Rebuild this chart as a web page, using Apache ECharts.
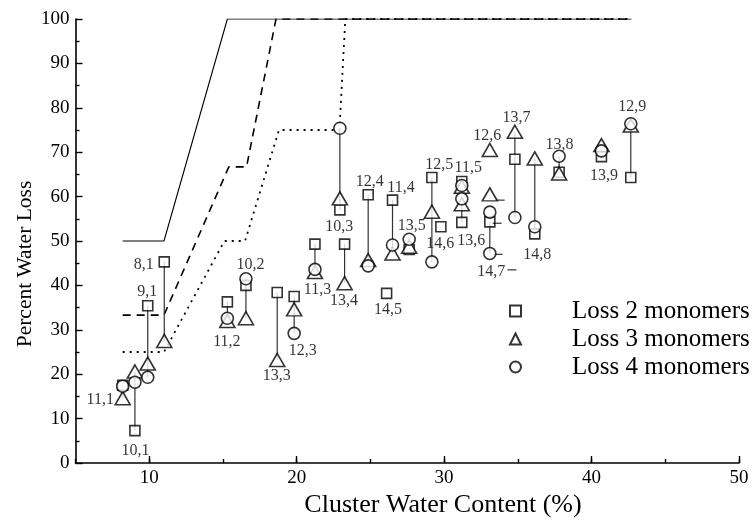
<!DOCTYPE html>
<html>
<head>
<meta charset="utf-8">
<script src="https://cdn.jsdelivr.net/npm/echarts@6/dist/echarts.min.js"></script>
<style>
  html, body { margin: 0; padding: 0; background: #fff; }
  #chart { width: 754px; height: 524px; }
</style>
</head>
<body>
<div id="chart"></div>
<script>
// Cluster labels (n,m) and the water content of each cluster (%)
const clusterLabels = ['11,1', '10,1', '9,1', '8,1', '11,2', '10,2', '13,3', '12,3', '11,3', '10,3',
  '13,4', '12,4', '14,5', '11,4', '13,5', '12,5', '14,6', '11,5', '13,6', '12,6',
  '', '', '14,7', '13,7', '14,8', '13,8', '13,9', '12,9'];
const waterContent = [8.2, 9.03, 9.9, 11.02, 15.3, 16.56, 18.68, 19.83, 21.24, 22.93,
  23.25, 24.85, 26.1, 26.5, 27.63, 29.17, 29.78, 31.2, 31.2, 33.1,
  33.1, 33.1, 33.1, 34.8, 36.15, 37.8, 40.67, 42.66];

// Percent water loss for each channel (null = not observed)
const loss2 = [17.5, 7.3, 35.4, 45.3, 36.3, 40, 38.4, 37.5, 49.3, 57,
  49.3, 60.4, 38.2, 59.2, 48.1, 64.3, 53.2, 63.4, 54.2, null,
  null, null, 54.3, 68.4, 51.6, 65.5, 69, 64.3];
const loss3 = [14.6, 20.6, 22.4, 27.5, 32, 32.6, 23.2, 34.6, 43, 59.6,
  40.5, 45.7, null, 47.2, 48.7, 56.6, null, 62.2, 58.3, 70.5,
  60.5, null, null, 74.6, 68.6, 65.2, 71.6, 76];
const loss4 = [17.3, 18.2, 19.3, null, 32.6, 41.5, null, 29.2, 43.6, 75.4,
  null, 44.4, null, 49.1, 50.4, 45.3, null, 62.5, 59.5, null,
  null, 56.5, 47.2, 55.3, 53.2, 69.1, 70.3, 76.4];

// Upper limits of water loss for 2, 3 and 4 monomer loss
const limit2 = [[8.2, 50], [11, 50], [15.3, 100], [42.7, 100]];
const limit3 = [[8.2, 33.3], [11, 33.3], [15.4, 66.7], [16.6, 66.7], [18.6, 100], [42.7, 100]];
const limit4 = [[8.2, 25], [11, 25], [15.1, 50], [16.5, 50], [18.8, 75], [22.9, 75], [23.3, 100], [42.7, 100]];

// Short side marks next to the 33% water content group
const sideMarks = [[33.8, 59.2], [33.6, 54], [33.65, 47], [34.6, 43.5]];

// Axis ticks
const xMajorTicks = [10, 20, 30, 40, 50];

const seriesNames = ['Loss 2 monomers', 'Loss 3 monomers', 'Loss 4 monomers'];

// Where each cluster label sits: anchor channel and pixel offset of the text centre
const labelPlacement = {
  '11,1': ['t', -22, 2], '10,1': ['s', 1, 21], '9,1': ['s', 0, -14], '8,1': ['s', -20, 3],
  '11,2': ['t', 0, 21], '10,2': ['c', 5, -13], '13,3': ['t', 0, 16], '12,3': ['c', 9, 18],
  '11,3': ['t', 3, 18], '10,3': ['s', 0, 17], '13,4': ['t', 0, 18], '12,4': ['s', 2, -13],
  '11,4': ['s', 9, -12], '14,5': ['s', 2, 17], '13,5': ['c', 3, -13], '12,5': ['s', 8, -12],
  '14,6': ['s', 0, 18], '11,5': ['s', 7, -13], '13,6': ['s', 10, 19], '12,6': ['t', -2, -14],
  '14,7': ['c', 2, 19], '13,7': ['t', 2, -13], '14,8': ['s', 3, 21], '13,8': ['c', 1, -11],
  '13,9': ['s', 3, 20], '12,9': ['c', 2, -16]
};

const FONT = '"Liberation Serif", "Times New Roman", serif';

const channels = { s: loss2, t: loss3, c: loss4 };

function points(values) {
  const out = [];
  values.forEach((v, i) => { if (v != null) out.push([waterContent[i], v]); });
  return out;
}

// Vertical connector spanning all channels measured for a cluster
const connectors = [];
waterContent.forEach((x, i) => {
  const vals = [loss2[i], loss3[i], loss4[i]].filter(v => v != null);
  if (vals.length > 1) connectors.push([x, Math.min(...vals), Math.max(...vals)]);
});

const labelPoints = [];
clusterLabels.forEach((name, i) => {
  const p = labelPlacement[name];
  if (!name || !p) return;
  labelPoints.push({
    value: [waterContent[i], channels[p[0]][i]],
    name: name,
    label: { position: [p[1], p[2]] }
  });
});

const markerStyle = { color: '#fff', borderColor: '#000', borderWidth: 1.6 };

const chart = echarts.init(document.getElementById('chart'), null, { renderer: 'canvas' });

const axisCommon = {
  axisLine: { show: true, onZero: false, lineStyle: { color: '#000', width: 1.6 } },
  splitLine: { show: false },
  axisLabel: { color: '#000', fontFamily: FONT, fontSize: 19 }
};

chart.setOption({
  animation: false,
  backgroundColor: '#fff',
  grid: { left: 75.5, right: 15, top: 19, bottom: 61, containLabel: false },
  xAxis: [
    Object.assign({}, axisCommon, {
      type: 'value', min: 5, max: 50, interval: 5,
      axisTick: { show: true, inside: true, length: 4, lineStyle: { color: '#000', width: 1.4 } },
      axisLabel: Object.assign({}, axisCommon.axisLabel, {
        margin: 6,
        formatter: v => (xMajorTicks.indexOf(v) >= 0 ? String(v) : '')
      })
    }),
    {
      type: 'value', min: 5, max: 50, position: 'bottom',
      axisLine: { show: false },
      splitLine: { show: false },
      axisLabel: { show: false },
      axisTick: { show: true, inside: true, length: 7, customValues: xMajorTicks,
        lineStyle: { color: '#000', width: 1.4 } }
    }
  ],
  yAxis: Object.assign({}, axisCommon, {
    type: 'value', min: 0, max: 100, interval: 10,
    axisTick: { show: true, inside: true, length: 7, lineStyle: { color: '#000', width: 1.4 } },
    minorTick: { show: true, splitNumber: 2, length: 4, lineStyle: { color: '#000', width: 1.4 } },
    minorSplitLine: { show: false },
    axisLabel: Object.assign({}, axisCommon.axisLabel, { margin: 6 })
  }),
  legend: {
    orient: 'vertical', left: 504, top: 293,
    itemWidth: 11, itemHeight: 11, itemGap: 2,
    data: seriesNames,
    textStyle: { color: '#000', fontFamily: FONT, fontSize: 25, lineHeight: 26, padding: [0, 0, 0, 46] }
  },
  graphic: [
    {
      type: 'text', x: 25, y: 264, rotation: Math.PI / 2,
      style: { text: 'Percent Water Loss', font: '21.5px ' + FONT, fill: '#000',
        textAlign: 'center', textVerticalAlign: 'middle' }
    },
    {
      type: 'text', x: 443, y: 505,
      style: { text: 'Cluster Water Content (%)', font: '26px ' + FONT, fill: '#000',
        textAlign: 'center', textVerticalAlign: 'middle' }
    }
  ],
  series: [
    { type: 'line', data: limit2, symbol: 'none', silent: true, z: 1,
      lineStyle: { color: '#000', width: 1.1, type: 'solid' } },
    { type: 'line', data: limit3, symbol: 'none', silent: true, z: 1,
      lineStyle: { color: '#000', width: 1.6, type: [8, 6] } },
    { type: 'line', data: limit4, symbol: 'none', silent: true, z: 1,
      lineStyle: { color: '#000', width: 1.8, type: [2, 5] } },
    {
      type: 'custom', data: connectors, z: 2, silent: true,
      encode: { x: 0, y: [1, 2] },
      renderItem: (params, api) => {
        const lo = api.coord([api.value(0), api.value(1)]);
        const hi = api.coord([api.value(0), api.value(2)]);
        return { type: 'line', shape: { x1: lo[0], y1: lo[1], x2: hi[0], y2: hi[1] },
          style: { stroke: '#333', lineWidth: 1.2 } };
      }
    },
    { type: 'scatter', name: seriesNames[0], data: points(loss2), symbol: 'rect', symbolSize: 10,
      itemStyle: markerStyle, z: 3 },
    { type: 'scatter', name: seriesNames[1], data: points(loss3), symbol: 'triangle', symbolSize: [15, 13],
      itemStyle: markerStyle, z: 4 },
    { type: 'scatter', name: seriesNames[2], data: points(loss4), symbol: 'circle', symbolSize: 12,
      itemStyle: markerStyle, z: 5 },
    { type: 'scatter', data: sideMarks, symbol: 'rect', symbolSize: [9, 1.2], silent: true, z: 3,
      itemStyle: { color: '#000' } },
    {
      type: 'scatter', data: labelPoints, symbolSize: 1, silent: true, z: 6,
      itemStyle: { color: 'transparent' },
      label: { show: true, formatter: '{b}', align: 'center', verticalAlign: 'middle',
        color: '#000', fontFamily: FONT, fontSize: 16 }
    }
  ]
});
</script>
</body>
</html>
